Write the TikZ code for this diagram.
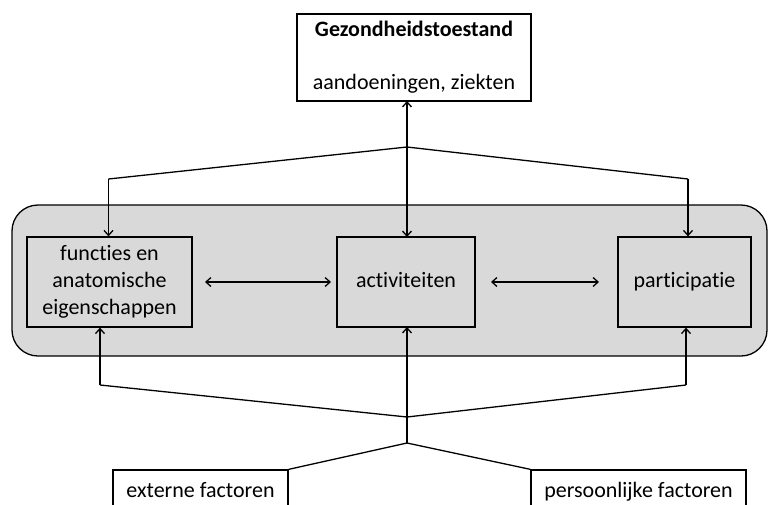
\documentclass[tikz,border=0pt]{standalone}
\usepackage{fontspec}
\setmainfont{Carlito}[Ligatures=NoCommon]
\usetikzlibrary{arrows.meta}
\definecolor{panelgray}{HTML}{D9D9D9}
\begin{document}
\begin{tikzpicture}[x=1pt,y=-1pt,
  txt/.style={font=\fontsize{22}{27}\selectfont, align=center},
  box/.style={draw, line width=1.3pt, txt, inner sep=0pt},
  one/.style={text height=15pt, text depth=5pt},
  conn/.style={line width=1.3pt},
  arr/.style={conn, -{Straight Barb[length=5pt,width=9pt,line width=1.3pt]}},
  darr/.style={conn, {Straight Barb[length=5pt,width=9pt,line width=1.3pt]}-{Straight Barb[length=5pt,width=9pt,line width=1.3pt]}}
]
\useasboundingbox (0,0) rectangle (768,504);
\clip (0,0) rectangle (768,504);
% panel
\draw[line width=1.3pt, fill=panelgray, rounded corners=26pt] (12,205) rectangle (767,356);
% top box
\node[box, fill=white, minimum width=234pt, minimum height=87pt] (top) at (414,57.5)
  {\textbf{Gezondheidstoestand}\\[26pt]aandoeningen, ziekten};
% inner boxes
\node[box, minimum width=165pt, minimum height=90pt] (func) at (109.5,282)
  {functies en\\anatomische\\eigenschappen};
\node[box, one, minimum width=138pt, minimum height=90pt] (act) at (406,282) {activiteiten};
\node[box, one, minimum width=133pt, minimum height=90pt] (part) at (684.5,282) {participatie};
% bottom boxes
\node[box, one, fill=white, minimum width=175pt, minimum height=44pt] (ext) at (200.5,492) {externe factoren};
\node[box, one, fill=white, minimum width=215pt, minimum height=44pt] (pers) at (638.5,492) {persoonlijke factoren};
% coordinates
\coordinate (tsplit) at (407,147);
\coordinate (tl) at (108.5,179);
\coordinate (tr) at (688,179);
\coordinate (bsplit) at (407,417);
\coordinate (bl) at (100,385);
\coordinate (br) at (686,385);
\coordinate (fsplit) at (407,443);
\coordinate (topfoot) at (407,101);
\coordinate (actfoot) at (407,237);
\coordinate (actbase) at (407,327);
% top connectors
\draw[darr] (topfoot) -- (actfoot);
\draw[conn] (tsplit) -- (tl);
\draw[arr] (tl) -- (tl |- func.north);
\draw[conn] (tsplit) -- (tr);
\draw[arr] (tr) -- (tr |- part.north);
% horizontal
\coordinate (h1a) at (205,282);
\coordinate (h1b) at (331,282);
\coordinate (h2a) at (491,282);
\coordinate (h2b) at (599,282);
\draw[darr] (h1a) -- (h1b);
\draw[darr] (h2a) -- (h2b);
% bottom connectors
\draw[arr] (fsplit) -- (actbase);
\draw[conn] (bsplit) -- (bl);
\draw[arr] (bl) -- (bl |- func.south);
\draw[conn] (bsplit) -- (br);
\draw[arr] (br) -- (br |- part.south);
\draw[conn] (fsplit) -- (ext.north east);
\draw[conn] (fsplit) -- (pers.north west);
\end{tikzpicture}
\end{document}
